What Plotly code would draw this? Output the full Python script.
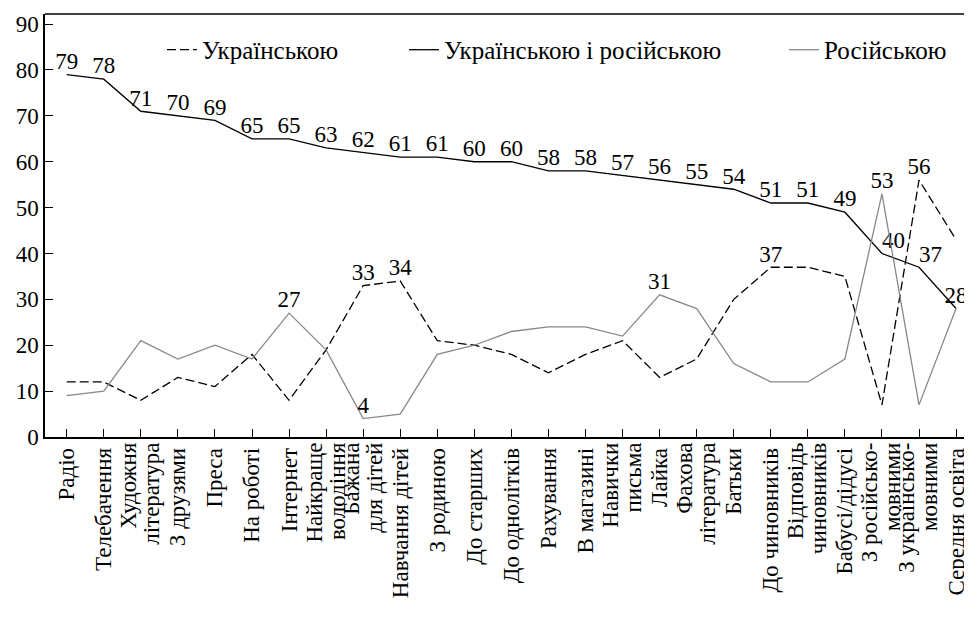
import plotly.graph_objects as go

categories = [
    "Радіо", "Телебачення", "Художня<br>література", "З друзями", "Преса",
    "На роботі", "Інтернет", "Найкраще<br>володіння", "Бажана<br>для дітей",
    "Навчання дітей", "З родиною", "До старших", "До однолітків", "Рахування",
    "В магазині", "Навички<br>письма", "Лайка", "Фахова<br>література", "Батьки",
    "До чиновників", "Відповідь<br>чиновників", "Бабусі/дідусі",
    "З російсько-<br>мовними", "З українсько-<br>мовними", "Середня освіта",
]
ukr = [12, 12, 8, 13, 11, 18, 8, 19, 33, 34, 21, 20, 18, 14, 18, 21, 13, 17, 30, 37, 37, 35, 7, 56, 43]
ukr_rus = [79, 78, 71, 70, 69, 65, 65, 63, 62, 61, 61, 60, 60, 58, 58, 57, 56, 55, 54, 51, 51, 49, 40, 37, 28]
rus = [9, 10, 21, 17, 20, 17, 27, 19, 4, 5, 18, 20, 23, 24, 24, 22, 31, 28, 16, 12, 12, 17, 53, 7, 28]

ukr_labels_idx = [8, 9, 19, 23]
rus_labels_idx = [6, 8, 16, 22]

y_ticks = [0, 10, 20, 30, 40, 50, 60, 70, 80, 90]

FONT = "Liberation Serif, Times New Roman, serif"
FS = 23
x = list(range(len(categories)))
XR = [-0.586, 24.43]

# split category labels: single-line ones on the main axis,
# two-line ones as first/second lines on overlaid axes (tighter line spacing)
single_vals, single_text = [], []
l1_vals, l1_text, l2_text = [], [], []
for i, c in enumerate(categories):
    parts = c.split("<br>")
    if len(parts) == 1:
        single_vals.append(i)
        single_text.append(parts[0])
    else:
        l1_vals.append(i)
        l1_text.append(parts[0])
        l2_text.append(parts[1])

ukr_text = [str(v) if i in ukr_labels_idx else "" for i, v in enumerate(ukr)]
rus_text = [str(v) if i in rus_labels_idx else "" for i, v in enumerate(rus)]
ur_text = [str(v) for v in ukr_rus]
ur_pos = ["top center"] * len(ukr_rus)
ur_pos[22] = "top right"
ur_pos[23] = "top right"

fig = go.Figure()
fig.add_trace(go.Scatter(
    x=x, y=ukr, mode="lines+text", name="Українською",
    line=dict(color="black", width=1.3, dash="9px,4px"),
    text=ukr_text, textposition="top center",
    textfont=dict(family=FONT, size=FS, color="black"),
    cliponaxis=False, legend="legend", showlegend=True,
))
fig.add_trace(go.Scatter(
    x=x, y=ukr_rus, mode="lines+text", name="Українською і російською",
    line=dict(color="black", width=1.3),
    text=ur_text, textposition=ur_pos,
    textfont=dict(family=FONT, size=FS, color="black"),
    cliponaxis=False, legend="legend2", showlegend=True,
))
fig.add_trace(go.Scatter(
    x=x, y=rus, mode="lines+text", name="Російською",
    line=dict(color="#888888", width=1.3),
    text=rus_text, textposition="top center",
    textfont=dict(family=FONT, size=FS, color="black"),
    cliponaxis=False, legend="legend3", showlegend=True,
))
# empty helper traces so the overlaid label axes exist
for ax in ("x2", "x3"):
    fig.add_trace(go.Scatter(x=[], y=[], xaxis=ax, yaxis="y", showlegend=False,
                             hoverinfo="skip"))

legend_common = dict(
    orientation="h", yanchor="middle", y=0.915, xanchor="left",
    bgcolor="rgba(0,0,0,0)", font=dict(family=FONT, size=25, color="black"),
)
label_axis = dict(
    range=XR, tickangle=-90, automargin=False, showline=False,
    ticks="", showgrid=False, zeroline=False, overlaying="x", anchor="y",
    side="bottom", tickmode="array",
    tickfont=dict(family=FONT, size=FS, color="black"),
)
# The page body has an 8px margin, so the figure is 8px smaller than the window
fig.update_layout(
    width=964, height=620,
    margin=dict(l=37, r=0, t=6, b=191, autoexpand=False),
    paper_bgcolor="white", plot_bgcolor="white",
    showlegend=True,
    font=dict(family=FONT, size=FS, color="black"),
    legend=dict(x=(162 - 45) / 927, **legend_common),
    legend2=dict(x=(404 - 45) / 927, **legend_common),
    legend3=dict(x=(784 - 45) / 927, **legend_common),
    xaxis=dict(
        tickmode="array", tickvals=single_vals, ticktext=single_text,
        range=XR, tickangle=-90, automargin=False,
        showline=True, linecolor="black", linewidth=1.5,
        ticks="inside", ticklen=8, tickcolor="black", tickwidth=1.2,
        showgrid=False, zeroline=False,
        tickfont=dict(family=FONT, size=FS, color="black"),
    ),
    xaxis2=dict(tickvals=l1_vals, ticktext=l1_text, ticklabelshift=-12,
                ticks="inside", ticklen=8, tickcolor="black", tickwidth=1.2,
                **{k: v for k, v in label_axis.items() if k != "ticks"}),
    xaxis3=dict(tickvals=l1_vals, ticktext=l2_text, ticklabelshift=11, **label_axis),
    yaxis=dict(
        tickmode="array", tickvals=y_ticks, automargin=False,
        range=[0, 92.2],
        showline=True, linecolor="black", linewidth=1.5,
        ticks="inside", ticklen=8, tickcolor="black", tickwidth=1.2,
        showgrid=False, zeroline=False,
        tickfont=dict(family=FONT, size=FS, color="black"),
    ),
    shapes=[dict(type="line", xref="paper", yref="paper", x0=0, x1=1, y0=1, y1=1,
                 line=dict(color="black", width=1.5))],
)

fig.write_html("out.html")
